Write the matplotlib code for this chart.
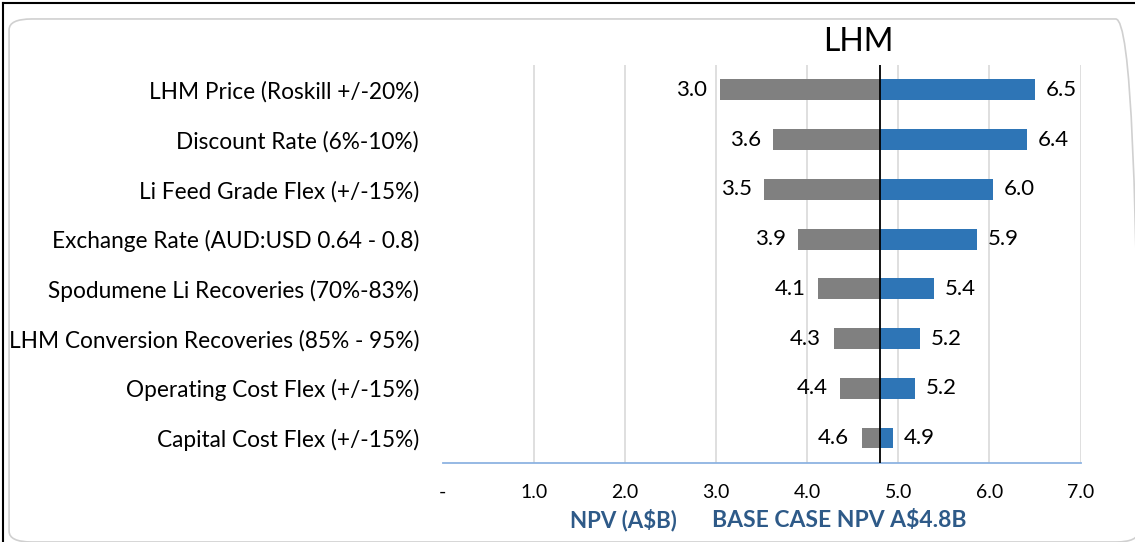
import matplotlib.pyplot as plt
from matplotlib.patches import FancyBboxPatch
from matplotlib.lines import Line2D

plt.rcParams['font.family'] = ['Lato', 'DejaVu Sans']

categories = [
    "LHM Price (Roskill +/-20%)",
    "Discount Rate (6%-10%)",
    "Li Feed Grade Flex (+/-15%)",
    "Exchange Rate (AUD:USD 0.64 - 0.8)",
    "Spodumene Li Recoveries (70%-83%)",
    "LHM Conversion Recoveries (85% - 95%)",
    "Operating Cost Flex (+/-15%)",
    "Capital Cost Flex (+/-15%)",
]
low_npv = [3.04, 3.63, 3.53, 3.90, 4.12, 4.29, 4.36, 4.60]
high_npv = [6.50, 6.41, 6.04, 5.86, 5.39, 5.24, 5.18, 4.94]
base_npv = 4.8
x_ticks = [0, 1, 2, 3, 4, 5, 6, 7]
x_ticklabels = ["-", "1.0", "2.0", "3.0", "4.0", "5.0", "6.0", "7.0"]

grey = "#808080"
blue = "#2E75B6"
navy = "#2E5A88"

fig = plt.figure(figsize=(11.35, 5.42), dpi=100)
ax = fig.add_axes([0.390, 0.146, 0.562, 0.734])

y = list(range(len(categories)))
h = 0.42
ax.barh(y, [lo - base_npv for lo in low_npv], left=base_npv, height=h, color=grey, zorder=3)
ax.barh(y, [hi - base_npv for hi in high_npv], left=base_npv, height=h, color=blue, zorder=3)

for i, (lo, hi) in enumerate(zip(low_npv, high_npv)):
    ax.annotate(f"{lo:.1f}", (lo, i), xytext=(-9, 0), textcoords="offset points",
                ha="right", va="center", fontsize=16, color="black")
    ax.annotate(f"{hi:.1f}", (hi, i), xytext=(8, 0), textcoords="offset points",
                ha="left", va="center", fontsize=16, color="black")

ax.axvline(base_npv, color="black", linewidth=1.3, zorder=4)

ax.set_xlim(0, 7)
ax.set_ylim(len(categories) - 0.5, -0.5)
ax.set_yticks(y)
ax.set_yticklabels(categories, fontsize=16.3)
ax.set_xticks(x_ticks)
ax.set_xticklabels(x_ticklabels, fontsize=14)
ax.tick_params(axis="both", length=0)
ax.tick_params(axis="y", pad=17)
ax.tick_params(axis="x", pad=15)
ax.grid(axis="x", color="#D9D9D9", linewidth=1.2, zorder=0)
for g in ax.get_xgridlines()[:1]:
    g.set_visible(False)
for s in ["top", "right", "left"]:
    ax.spines[s].set_visible(False)
ax.spines["bottom"].set_color("#8DB3E2")
ax.spines["bottom"].set_linewidth(1.3)

ax.set_title("LHM", fontsize=23, x=0.652, pad=10)

fig.text(0.502, 0.027, "NPV (A$B)", color=navy, fontsize=16, fontweight="bold", ha="left")
fig.text(0.627, 0.027, "BASE CASE NPV A$4.8B", color=navy, fontsize=16.5, fontweight="bold", ha="left")

# frame
fig.patches.append(FancyBboxPatch((0.008, 0.0), 0.995, 0.965, boxstyle="round,pad=0,rounding_size=0.02",
                                  transform=fig.transFigure, fill=False, edgecolor="#D0D0D0",
                                  linewidth=1.2))
fig.lines.append(Line2D([0.003, 0.003], [0, 0.994], transform=fig.transFigure, color="black", linewidth=1.5))
fig.lines.append(Line2D([0.003, 1], [0.994, 0.994], transform=fig.transFigure, color="black", linewidth=1.5))

fig.savefig("out.png", dpi=100)
